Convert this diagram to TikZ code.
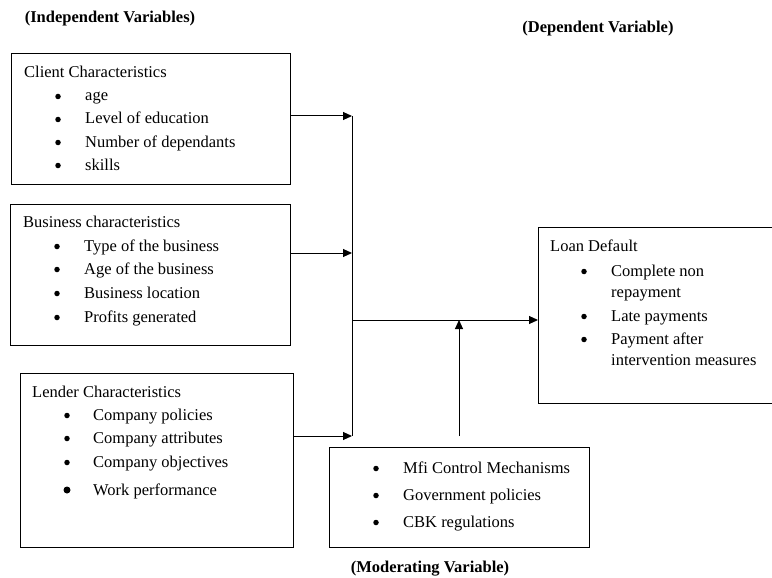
\documentclass[tikz,border=0pt]{standalone}
\usepackage{fontspec}
\setmainfont{Liberation Serif}
\usetikzlibrary{arrows.meta}

\tikzset{
  box/.style={draw, line width=1pt, anchor=north west, inner sep=0pt},
  txt/.style={anchor=base west, inner sep=0pt, font=\fontsize{16.5}{20}\selectfont},
  dot/.style={circle, fill, inner sep=0pt, minimum size=5.5pt},
  ttl/.style={inner sep=0pt, font=\fontsize{16.5}{19}\selectfont\bfseries},
  link/.style={line width=1pt, -{Triangle[length=9pt,width=8pt]}},
  wire/.style={line width=1pt}
}

\begin{document}
\begin{tikzpicture}[x=1pt, y=-1pt]
    \useasboundingbox (0,0) rectangle (772,578);

    % titles
    \node[ttl] (indep) at (110,19) {(Independent Variables)};
    \node[ttl] (dep) at (598,29) {(Dependent Variable)};
    \node[ttl] (moder) at (430,569) {(Moderating Variable)};

    % boxes
    \node[box, minimum width=279pt, minimum height=131pt] (client) at (11,53) {};
    \node[box, minimum width=280pt, minimum height=141pt] (business) at (10,204) {};
    \node[box, minimum width=273pt, minimum height=174pt] (lender) at (20,373) {};
    \node[box, minimum width=260pt, minimum height=100pt] (modbox) at (329,447) {};
    \node[box, minimum width=236pt, minimum height=176pt] (loan) at (538,227) {};

    % client characteristics
    \node[txt] (chead) at (24,78) {Client Characteristics};
    \foreach \t/\yy [count=\i] in {age/96, Level of education/119, Number of dependants/142, skills/165} {
        \node[dot] (cb\i) at (58,\yy+0.5) {};
        \node[txt] (ct\i) at (85,\yy+5) {\t};
    }

    % business characteristics
    \node[txt] (bhead) at (23,227) {Business characteristics};
    \foreach \t/\yy [count=\i] in {Type of the business/246, Age of the business/269, Business location/293, Profits generated/317} {
        \node[dot] (bb\i) at (57,\yy+0.5) {};
        \node[txt] (bt\i) at (84,\yy+5) {\t};
    }

    % lender characteristics
    \node[txt] (lhead) at (32,397) {Lender Characteristics};
    \foreach \t/\yy [count=\i] in {Company policies/415, Company attributes/438, Company objectives/462} {
        \node[dot] (lb\i) at (67,\yy+0.5) {};
        \node[txt] (lt\i) at (93,\yy+5) {\t};
    }
    \node[dot, minimum size=7pt] (lb4) at (67,490) {};
    \node[txt] (lt4) at (93,495) {Work performance};

    % moderating variable
    \foreach \t/\yy [count=\i] in {Mfi Control Mechanisms/468, Government policies/495, CBK regulations/522} {
        \node[dot] (mb\i) at (376,\yy+0.5) {};
        \node[txt] (mt\i) at (403,\yy+5) {\t};
    }

    % loan default
    \node[txt] (dhead) at (550,251) {Loan Default};
    \node[dot] (db1) at (584,271.5) {};
    \node[txt] (dt1) at (611,276) {Complete non};
    \node[txt] (dt1b) at (611,297) {repayment};
    \node[dot] (db2) at (584,316.5) {};
    \node[txt] (dt2) at (611,321) {Late payments};
    \node[dot] (db3) at (584,339.5) {};
    \node[txt] (dt3) at (611,344) {Payment after};
    \node[txt] (dt3b) at (611,365) {intervention measures};

    % connectors
    \coordinate (jc) at (352,116);
    \coordinate (jb) at (352,253);
    \coordinate (jo) at (352,320);
    \coordinate (jl) at (352,436);
    \coordinate (mo) at (459,320);

    \draw[link] (client.east |- jc) -- (jc);
    \draw[link] (business.east |- jb) -- (jb);
    \draw[link] (lender.east |- jl) -- (jl);
    \draw[wire] (jc) -- (jl);
    \draw[link] (jo) -- (loan.west |- jo);
    \draw[link] (mo |- jl) -- (mo);
\end{tikzpicture}
\end{document}
